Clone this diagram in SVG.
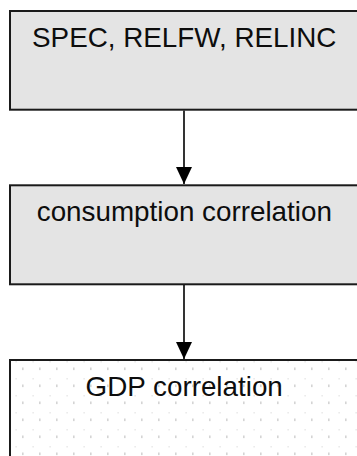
<svg xmlns="http://www.w3.org/2000/svg" width="357" height="456" viewBox="0 0 357 456">
  <style>
    .box { stroke: #1a1a1a; stroke-width: 2; }
    .gray { fill: #e4e4e4; }
    .lbl { font-family: "Liberation Sans", Arial, sans-serif; font-size: 27.8px; fill: #0d0d0d; text-anchor: middle; }
    .conn { stroke: #000; stroke-width: 1.6; fill: none; marker-end: url(#arrow); }
  </style>
  <defs>
    <marker id="arrow" markerUnits="userSpaceOnUse" markerWidth="17" markerHeight="17" refX="17" refY="8" orient="auto">
      <path d="M0,0 L17,8 L0,16 Z" fill="#000"/>
    </marker>
    <pattern id="dots" patternUnits="userSpaceOnUse" x="0" y="0" width="17" height="17">
      <rect width="17" height="17" fill="#ffffff"/>
      <rect x="5" y="10.5" width="1.6" height="2.6" fill="#d4d4d4"/>
      <rect x="15.5" y="4.2" width="1.2" height="1.2" fill="#dcdcdc"/>
    </pattern>
  </defs>
  <rect width="357" height="456" fill="#ffffff"/>
  <g id="connectors">
    <line class="conn" x1="184" y1="110.5" x2="184" y2="184"/>
    <line class="conn" x1="184" y1="285" x2="184" y2="359"/>
  </g>
  <g id="node-spec">
    <rect class="box gray" x="10" y="11" width="356" height="98.7"/>
    <text class="lbl" x="184.2" y="46.5">SPEC, RELFW, RELINC</text>
  </g>
  <g id="node-consumption">
    <rect class="box gray" x="10" y="185.3" width="356" height="99"/>
    <text class="lbl" x="184.3" y="220.8">consumption correlation</text>
  </g>
  <g id="node-gdp">
    <rect class="box" fill="url(#dots)" x="10" y="360" width="356" height="110"/>
    <text class="lbl" x="184.2" y="396">GDP correlation</text>
  </g>
</svg>
